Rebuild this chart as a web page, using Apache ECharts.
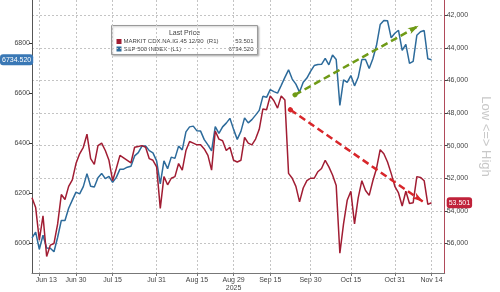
<!DOCTYPE html>
<html><head><meta charset="utf-8">
<script src="https://cdn.jsdelivr.net/npm/echarts@6/dist/echarts.min.js"></script>
<style>html,body{margin:0;padding:0;background:#fff}#c{width:500px;height:292px}</style>
</head><body><div id="c"></div>
<script>
// Trading days Jun 11 – Nov 14, 2025
const dates = [
 'Jun 11','Jun 12','Jun 13','Jun 16','Jun 17','Jun 18','Jun 20','Jun 23','Jun 24','Jun 25','Jun 26','Jun 27','Jun 30',
 'Jul 1','Jul 2','Jul 3','Jul 7','Jul 8','Jul 9','Jul 10','Jul 11','Jul 14','Jul 15','Jul 16','Jul 17','Jul 18','Jul 21','Jul 22','Jul 23','Jul 24','Jul 25','Jul 28','Jul 29','Jul 30','Jul 31',
 'Aug 1','Aug 4','Aug 5','Aug 6','Aug 7','Aug 8','Aug 11','Aug 12','Aug 13','Aug 14','Aug 15','Aug 18','Aug 19','Aug 20','Aug 21','Aug 22','Aug 25','Aug 26','Aug 27','Aug 28','Aug 29',
 'Sep 2','Sep 3','Sep 4','Sep 5','Sep 8','Sep 9','Sep 10','Sep 11','Sep 12','Sep 15','Sep 16','Sep 17','Sep 18','Sep 19','Sep 22','Sep 23','Sep 24','Sep 25','Sep 26','Sep 29','Sep 30',
 'Oct 1','Oct 2','Oct 3','Oct 6','Oct 7','Oct 8','Oct 9','Oct 10','Oct 13','Oct 14','Oct 15','Oct 16','Oct 17','Oct 20','Oct 21','Oct 22','Oct 23','Oct 24','Oct 27','Oct 28','Oct 29','Oct 30','Oct 31',
 'Nov 3','Nov 4','Nov 5','Nov 6','Nov 7','Nov 10','Nov 11','Nov 12','Nov 13','Nov 14'
];
const tickLabels = ['Jun 13','Jun 30','Jul 15','Jul 31','Aug 15','Aug 29','Sep 15','Sep 30','Oct 15','Oct 31','Nov 14'];
const yearLabel = '2025';
const sp500 = [
 6022,6045,5977,6033,5982,5981,5967,6025,6092,6092,6141,6173,6205,
 6198,6227,6279,6229,6226,6263,6280,6259,6268,6244,6264,6297,6297,6305,6309,6350,6363,6389,6390,6371,6362,6330,
 6238,6330,6299,6345,6340,6389,6374,6446,6466,6469,6450,6449,6415,6394,6370,6467,6440,6466,6481,6500,6456,
 6416,6448,6502,6482,6495,6513,6532,6588,6584,6615,6607,6601,6632,6664,6694,6657,6637,6605,6644,6661,6688,
 6711,6715,6716,6740,6714,6753,6735,6552,6654,6644,6671,6630,6664,6735,6735,6699,6738,6792,6875,6891,6890,6822,6840,
 6852,6772,6796,6720,6728,6832,6846,6851,6738,6734.52
];
const cdx = [
 53.2,53.8,55.8,54.3,56.8,56.1,56.0,54.8,53.0,53.3,52.5,52.1,51.1,
 50.5,50.1,49.3,50.8,51.15,50.0,49.85,50.3,50.9,52.15,51.4,50.6,50.75,50.9,51.05,50.1,50.05,50.0,50.1,50.8,50.9,51.3,
 53.85,51.9,52.4,52.0,51.9,51.1,51.5,50.3,49.75,49.85,49.95,49.95,50.2,50.6,51.5,49.1,49.6,49.7,50.3,50.1,50.9,
 51.0,50.9,49.5,49.85,49.95,49.6,49.0,47.75,47.8,46.95,47.25,47.7,46.95,47.2,51.7,52.0,52.5,53.45,52.6,52.15,52.0,
 52.0,51.6,51.4,50.9,51.3,51.8,52.45,56.6,54.8,53.35,52.8,54.8,53.2,52.15,52.75,53.05,52.15,51.4,50.25,50.5,51.0,51.7,52.5,
 52.9,53.7,52.8,53.55,53.5,51.9,51.95,52.15,53.6,53.501
];
const leftTicks = [6000,6200,6400,6600,6800];
const rightTicks = [42,44,46,48,50,52,54,56];
const seriesNames = ['MARKIT CDX.NA.IG.45 12/30', 'S&P 500 INDEX'];
// arrow annotations (trading-day index, value)
const greenArrow = [[71.75, 6594], [105.5, 6870]];
const redArrow = [[70.5, 47.8], [106.7, 53.44]];

const BLUE = '#2d6b9b', RED = '#a11d33', FONT = 'Liberation Sans';
const tickIdx = tickLabels.map(l => dates.indexOf(l));
const lastSp = sp500[sp500.length-1], lastCdx = cdx[cdx.length-1];

const chart = echarts.init(document.getElementById('c'), null, {renderer:'canvas'});
chart.setOption({
  animation: false,
  textStyle: {fontFamily: FONT},
  grid: {left: 32, right: 25, top: 0, bottom: 17, containLabel: false},
  xAxis: {
    type: 'value', min: 0, max: 112.6,
    axisLine: {show: true, lineStyle: {color: '#777', width: 1}},
    axisTick: {show: true, customValues: tickIdx, length: 3, lineStyle: {color: '#777'}},
    axisLabel: {
      customValues: tickIdx, margin: 3, color: '#444', fontSize: 7, fontFamily: FONT,
      lineHeight: 8,
      formatter: v => {
        const l = dates[Math.round(v)];
        if (l === 'Jun 13') return '{s|' + l + '}';
        if (l === 'Aug 29') return l + '\n' + yearLabel;
        return l;
      },
      rich: {s: {fontSize: 7, fontFamily: FONT, color: '#444', padding: [0,0,0,14]}}
    },
    splitLine: {show: true, lineStyle: {color: '#c4c4c4', type: [2,2], width: 1}}
  },
  yAxis: [{
    type: 'value', position: 'left', min: 5882, max: 6973,
    axisLine: {show: true, lineStyle: {color: '#555'}},
    axisTick: {show: true, customValues: leftTicks, length: 3, lineStyle: {color: '#333'}},
    axisLabel: {customValues: leftTicks, color: '#444', fontSize: 7, fontFamily: FONT, margin: 2,
      formatter: v => String(v)},
    splitLine: {show: false},
    axisPointer: {
      show: true, value: lastSp, status: 'show', triggerTooltip: false, type: 'line',
      lineStyle: {opacity: 0},
      label: {show: true, backgroundColor: '#3a78b5', color: '#fff', fontSize: 7, fontFamily: FONT,
        padding: [2,2,2,2], margin: 2, formatter: p => Number(p.value).toFixed(3)}
    }
  }, {
    type: 'value', position: 'right', inverse: true, min: 41.07, max: 57.81,
    name: 'Low <=> High', nameLocation: 'middle', nameRotate: -90, nameGap: 15,
    nameTextStyle: {color: '#c8c8c8', fontSize: 13, fontFamily: FONT},
    axisLine: {show: true, lineStyle: {color: '#b04a5a'}},
    axisTick: {show: true, customValues: rightTicks, length: 3, lineStyle: {color: '#444'}},
    axisLabel: {customValues: rightTicks, color: '#444', fontSize: 7, fontFamily: FONT, margin: 2,
      formatter: v => v.toFixed(3).replace('.', ',')},
    splitLine: {show: true, lineStyle: {color: '#c4c4c4', type: [2,2], width: 1}},
    axisPointer: {
      show: true, value: lastCdx, status: 'show', triggerTooltip: false, type: 'line',
      lineStyle: {opacity: 0},
      label: {show: true, backgroundColor: '#c0223a', color: '#fff', fontSize: 7, fontFamily: FONT,
        padding: [2,2,2,2], margin: 2, formatter: p => Number(p.value).toFixed(3)}
    }
  }],
  series: [{
    name: seriesNames[1], type: 'line', yAxisIndex: 0, showSymbol: false, symbol: 'none',
    lineStyle: {color: BLUE, width: 1.5}, itemStyle: {color: BLUE},
    data: sp500.map((v, i) => [i, v]),
    markLine: {
      silent: true, symbol: ['circle', 'arrow'], symbolSize: [5, 11], label: {show: false},
      lineStyle: {color: '#6f9a16', width: 2.5, type: [7, 4]},
      data: [[{coord: greenArrow[0]}, {coord: greenArrow[1]}]]
    }
  }, {
    name: seriesNames[0], type: 'line', yAxisIndex: 1, showSymbol: false, symbol: 'none',
    lineStyle: {color: RED, width: 1.5}, itemStyle: {color: RED},
    data: cdx.map((v, i) => [i, v]),
    markLine: {
      silent: true, symbol: ['circle', 'arrow'], symbolSize: [5, 11], label: {show: false},
      lineStyle: {color: '#d8262a', width: 2.5, type: [7, 4]},
      data: [[{coord: redArrow[0]}, {coord: redArrow[1]}]]
    }
  }],
  graphic: [{
    type: 'group', left: 111, top: 25,
    children: [
      {type: 'rect', shape: {x: 0, y: 0, width: 146, height: 29},
       style: {fill: '#fff', stroke: '#9a9a9a', lineWidth: 1, shadowBlur: 2, shadowColor: 'rgba(0,0,0,0.25)', shadowOffsetX: 1, shadowOffsetY: 1}},
      {type: 'text', x: 73, y: 4.5, style: {text: 'Last Price', font: '7px ' + FONT, fill: '#444', align: 'center'}},
      {type: 'rect', shape: {x: 5, y: 13.5, width: 5, height: 5}, style: {fill: RED}},
      {type: 'text', x: 12, y: 13, style: {text: seriesNames[0] + '  (R1)', font: '6px ' + FONT, fill: '#444'}},
      {type: 'text', x: 142, y: 13, style: {text: lastCdx.toFixed(3), font: '6px ' + FONT, fill: '#444', align: 'right'}},
      {type: 'rect', shape: {x: 5, y: 21, width: 5, height: 5}, style: {fill: BLUE}},
      {type: 'text', x: 12, y: 20.5, style: {text: seriesNames[1] + '  (L1)', font: '6px ' + FONT, fill: '#444'}},
      {type: 'text', x: 142, y: 20.5, style: {text: lastSp.toFixed(3), font: '6px ' + FONT, fill: '#444', align: 'right'}}
    ]
  }]
});
</script></body></html>
